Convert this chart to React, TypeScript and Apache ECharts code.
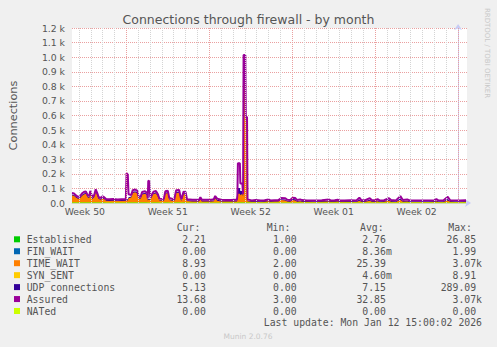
import React, { useEffect, useRef } from "react";
import * as echarts from "echarts";

// ---- data (hours relative to Mon Jan 12 2026 00:00) ----
const hours = [
  -782, -778, -774, -770, -766, -762, -758, -754, -750, -747,
  -745, -741, -737, -734, -731, -728, -724, -720, -717, -713,
  -706, -698, -690, -682, -673, -671.5, -669, -667.5, -662, -659,
  -654, -650, -647, -643, -640, -634, -630, -628.5, -627.5, -625.5,
  -623.5, -617, -612, -608, -605, -596, -593, -588, -585, -575,
  -571, -565, -562, -560, -556, -552, -549, -538, -530, -525,
  -522, -519, -508, -500, -495, -492, -488, -480, -470, -460,
  -450, -448, -447, -446, -442, -441, -437, -435.5, -434.5, -431, -430, -427.5, -426.5,
  -418, -410, -400, -392, -384, -380, -372, -364, -358,
  -350, -346, -340, -335, -330, -326, -320, -316, -306, -290,
  -276, -262, -258, -250, -244, -240, -230, -218, -206, -200,
  -196, -188, -179, -175, -168, -163, -159, -150, -140, -136,
  -126, -117, -112, -103, -98, -80, -60, -48, -44, -40,
  -30, -21, -16, -6, 4, 16,
];

const assured = [
  68, 66, 52, 42, 45, 65, 75, 80, 52, 50,
  83, 40, 55, 94, 70, 40, 36, 45, 40, 28,
  25, 27, 24, 26, 28, 205, 195, 60, 55, 88,
  92, 85, 45, 42, 75, 80, 70, 32, 152, 150,
  38, 78, 82, 60, 30, 28, 80, 85, 35, 24,
  88, 90, 40, 30, 78, 75, 25, 22, 22, 20,
  40, 22, 22, 22, 25, 48, 30, 22, 20, 20,
  22, 22, 55, 272, 272, 134, 134, 60, 1015, 1015, 590, 590, 25,
  18, 20, 17, 19, 24, 18, 19, 20, 34,
  33, 22, 20, 36, 34, 20, 25, 20, 18, 17,
  19, 24, 18, 19, 22, 18, 18, 19, 17, 36,
  20, 19, 33, 20, 19, 26, 18, 19, 33, 20,
  18, 47, 20, 24, 18, 17, 18, 19, 26, 18,
  17, 42, 19, 18, 17, 19,
];

const timeWait = [
  48, 46, 34, 26, 28, 45, 55, 60, 34, 32,
  62, 24, 36, 72, 50, 24, 20, 28, 24, 14,
  12, 13, 11, 12, 14, 14, 14, 30, 35, 66,
  70, 62, 28, 26, 55, 60, 50, 16, 20, 20,
  20, 58, 62, 40, 15, 13, 60, 65, 18, 10,
  66, 68, 22, 14, 58, 55, 11, 9, 9, 8,
  24, 9, 9, 9, 10, 30, 14, 9, 8, 8,
  9, 9, 25, 60, 60, 50, 60, 40, 980, 980, 560, 560, 10,
  6, 7, 5, 6, 10, 7, 9, 9, 18,
  16, 8, 7, 18, 16, 7, 10, 7, 6, 5,
  6, 9, 6, 6, 8, 6, 6, 6, 5, 14,
  6, 6, 13, 6, 6, 10, 5, 6, 13, 6,
  5, 20, 6, 8, 5, 5, 5, 6, 9, 5,
  5, 16, 6, 5, 5, 6,
];

const udp = [
  8, 8, 7, 7, 7, 8, 8, 8, 7, 7,
  8, 7, 7, 9, 8, 7, 7, 7, 7, 6,
  6, 6, 6, 6, 6, 8, 8, 7, 7, 8,
  8, 8, 7, 7, 8, 8, 8, 6, 8, 8,
  6, 8, 8, 7, 6, 6, 8, 8, 6, 6,
  8, 8, 7, 6, 8, 8, 6, 6, 6, 5,
  6, 6, 6, 6, 6, 7, 6, 6, 5, 5,
  6, 6, 12, 40, 40, 30, 20, 10, 10, 10, 10, 10, 5,
  5, 5, 5, 5, 5, 5, 4, 4, 6,
  6, 5, 5, 7, 7, 5, 5, 5, 5, 5,
  5, 5, 5, 5, 5, 5, 5, 5, 5, 8,
  5, 5, 7, 5, 5, 5, 5, 5, 7, 5,
  5, 10, 5, 5, 5, 5, 5, 5, 5, 5,
  5, 9, 5, 5, 5, 5,
];

const established = [
  3, 3, 3, 3, 3, 3, 3, 3, 3, 3,
  3, 3, 3, 3, 3, 3, 3, 3, 3, 2,
  2, 2, 2, 2, 2, 3, 3, 3, 3, 3,
  3, 3, 3, 3, 3, 3, 3, 2, 2, 2,
  2, 3, 3, 3, 2, 2, 3, 3, 2, 2,
  3, 3, 2, 2, 3, 3, 2, 2, 2, 2,
  2, 2, 2, 2, 2, 2, 2, 2, 2, 2,
  2, 2, 2, 3, 3, 3, 3, 3, 4, 4, 4, 4, 2,
  2, 2, 2, 2, 2, 2, 2, 2, 2,
  2, 2, 2, 2, 2, 2, 2, 2, 2, 2,
  2, 2, 2, 2, 2, 2, 2, 2, 2, 2,
  2, 2, 2, 2, 2, 2, 2, 2, 2, 2,
  2, 2, 2, 2, 2, 2, 2, 2, 2, 2,
  2, 2, 2, 2, 2, 2,
];

const natedHours = [-782, 16];
const natedValues = [0, 0];

const xMin = -782;
const xMax = 18;
const weekLabelHours = [-756, -588, -420, -252, -84];
const weekLabels = ["Week 50", "Week 51", "Week 52", "Week 01", "Week 02"];

const legendNames = ["Established", "FIN_WAIT", "TIME_WAIT", "SYN_SENT", "UDP connections", "Assured", "NATed"];
const legendColors = ["#00cc00", "#0066b3", "#ff8000", "#ffcc00", "#330099", "#990099", "#ccff00"];
const curValues = ["2.21", "0.00", "8.93", "0.00", "5.13", "13.68", "0.00"];
const minValues = ["1.00", "0.00", "2.00", "0.00", "0.00", "3.00", "0.00"];
const avgValues = ["2.76", "8.36m", "25.39", "4.60m", "7.15", "32.85", "0.00"];
const maxValues = ["26.85", "1.99", "3.07k", "8.91", "289.09", "3.07k", "0.00"];
const lastUpdate = "Last update: Mon Jan 12 15:00:02 2026";

const SANS = "'DejaVu Sans', sans-serif";
const MONO = "'DejaVu Sans Mono', monospace";
const TXT = "#555555";

function pairs(xs: number[], ys: number[]) {
  return xs.map((x, i) => [x, ys[i]]);
}

function buildGraphics() {
  const g: any[] = [];
  const fs = 9.8;
  const cw = fs * 0.602;
  const row0 = 239.3;
  const rowH = 11.95;
  const headerY = 227.3;
  const cols = [
    { head: "Cur:", headX: 176.7, edge: 211.8, vals: curValues },
    { head: "Min:", headX: 266.7, edge: 302.5, vals: minValues },
    { head: "Avg:", headX: 360, edge: 391.8, vals: avgValues },
    { head: "Max:", headX: 448.3, edge: 482, vals: maxValues },
  ];
  const font = `${fs}px ${MONO}`;
  cols.forEach((c) => {
    g.push({ type: "text", x: c.headX, y: headerY, style: { text: c.head, font, fill: TXT, align: "left", verticalAlign: "middle" } });
  });
  legendNames.forEach((name, i) => {
    const y = row0 + i * rowH;
    g.push({ type: "rect", shape: { x: 14, y: y - 3, width: 6, height: 6 }, style: { fill: legendColors[i] } });
    g.push({ type: "text", x: 26.7, y, style: { text: name, font, fill: TXT, align: "left", verticalAlign: "middle" } });
    cols.forEach((c) => {
      const s = c.vals[i];
      const hasUnit = /[a-z]$/i.test(s);
      g.push({ type: "text", x: hasUnit ? c.edge : c.edge - cw, y, style: { text: s, font, fill: TXT, align: "right", verticalAlign: "middle" } });
    });
  });
  g.push({ type: "text", x: 482, y: row0 + 7 * rowH, style: { text: lastUpdate, font, fill: TXT, align: "right", verticalAlign: "middle" } });
  g.push({ type: "text", x: 248.5, y: 19.5, style: { text: "Connections through firewall - by month", font: `12.5px ${SANS}`, fill: TXT, align: "center", verticalAlign: "middle" } });
  g.push({ type: "text", x: 248, y: 336, style: { text: "Munin 2.0.76", font: `7.5px ${SANS}`, fill: "#c8c8c8", align: "center", verticalAlign: "middle" } });
  g.push({ type: "text", x: 487, y: 53, rotation: -Math.PI / 2, style: { text: "RRDTOOL / TOBI OETIKER", font: `7px ${SANS}`, fill: "#c8c8c8", align: "center", verticalAlign: "middle" } });
  return g;
}

function gridLines() {
  const items: any[] = [];
  for (let h = Math.ceil(xMin / 24) * 24; h <= xMax; h += 24) {
    const major = h % 168 === 0;
    items.push({ xAxis: h, lineStyle: { color: major ? "#eaa0a0" : "#d4d4d4", type: [1, 1], width: 1 } });
  }
  return items;
}

export default function App() {
  const ref = useRef<HTMLDivElement>(null);
  useEffect(() => {
    if (!ref.current) return;
    const chart = echarts.init(ref.current, null, { renderer: "svg" });
    // stacked totals (ECharts stacks the x dimension on value/value axes, so stack by hand)
    const topEst = established.slice();
    const topTw = established.map((v, i) => v + timeWait[i]);
    const topUdp = topTw.map((v, i) => v + udp[i]);
    const areaSeries = (name: string, vals: number[], color: string) => ({
      name,
      type: "line",
      data: pairs(hours, vals),
      symbol: "none",
      lineStyle: { width: 0 },
      itemStyle: { color },
      areaStyle: { color, opacity: 1, origin: "start" },
      z: 3,
    });
    chart.setOption({
      animation: false,
      backgroundColor: "#f0f0f0",
      grid: { left: 67, right: 30, top: 28, bottom: 144, show: true, backgroundColor: "#ffffff", borderWidth: 0 },
      xAxis: {
        type: "value",
        min: xMin,
        max: xMax,
        axisLine: { show: true, lineStyle: { color: "#c8ccf4" }, symbol: ["none", "arrow"], symbolSize: [6, 6], symbolOffset: [0, 4] },
        axisTick: { show: false },
        splitLine: { show: false },
        axisLabel: {
          customValues: weekLabelHours,
          formatter: (v: number) => {
            const i = weekLabelHours.indexOf(v);
            return i >= 0 ? weekLabels[i] : "";
          },
          color: TXT,
          fontSize: 9.3,
          fontFamily: SANS,
          margin: 4,
          hideOverlap: false,
        },
      },
      yAxis: {
        type: "value",
        min: 0,
        max: 1200,
        interval: 100,
        name: "Connections",
        nameLocation: "middle",
        nameGap: 53,
        nameRotate: 90,
        nameTextStyle: { color: TXT, fontSize: 11.3, fontFamily: SANS },
        axisLine: { show: true, lineStyle: { color: "#c8ccf4" }, symbol: ["none", "arrow"], symbolSize: [6, 6], symbolOffset: [0, 4] },
        axisTick: { show: false },
        splitLine: { show: true, lineStyle: { color: "#eaa0a0", type: [1, 1], width: 1 } },
        axisLabel: {
          color: TXT,
          fontSize: 9.3,
          fontFamily: SANS,
          margin: 7,
          formatter: (v: number) => (v === 0 ? "0.0" : (v / 1000).toFixed(1) + " k"),
        },
      },
      graphic: buildGraphics(),
      series: [
        {
          name: "grid",
          type: "line",
          data: [],
          z: 1,
          silent: true,
          markLine: { silent: true, symbol: ["none", "none"], label: { show: false }, data: gridLines() },
        },
        areaSeries("UDP connections", topUdp, legendColors[4]),
        areaSeries("TIME_WAIT", topTw, legendColors[2]),
        areaSeries("Established", topEst, legendColors[0]),
        {
          name: "Assured",
          type: "line",
          data: pairs(hours, assured),
          symbol: "none",
          lineStyle: { width: 2, color: legendColors[5] },
          itemStyle: { color: legendColors[5] },
          z: 4,
        },
        {
          name: "NATed",
          type: "line",
          data: pairs(natedHours, natedValues),
          symbol: "none",
          lineStyle: { width: 1, color: legendColors[6] },
          z: 4,
        },
      ],
    });
    return () => chart.dispose();
  }, []);
  return <div ref={ref} style={{ position: "fixed", left: 0, top: 0, width: 497, height: 347 }} />;
}
